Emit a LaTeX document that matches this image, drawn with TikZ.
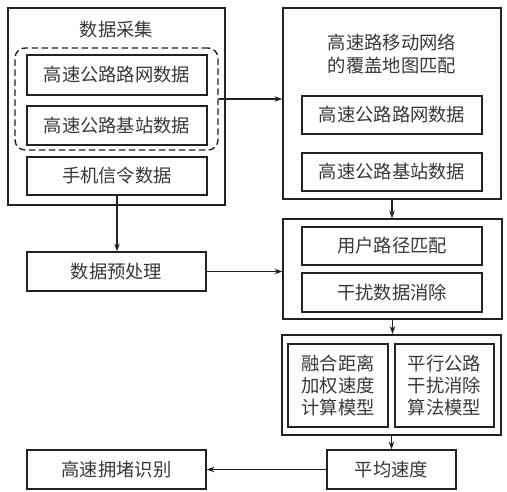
\documentclass[tikz,border=0pt]{standalone}
\usepackage{fontspec}
\newfontfamily\cjk{Noto Sans CJK SC}
\usetikzlibrary{arrows.meta}
\definecolor{ink}{HTML}{222222}
\definecolor{txt}{HTML}{383838}
\tikzset{
  boxstyle/.style={draw=ink, line width=1.2pt, rectangle, inner sep=0pt, font=\cjk\fontsize{18.3}{22}\selectfont, text=txt, align=center},
  thickbox/.style={boxstyle, line width=1.8pt},
  arr/.style={draw=ink, line width=1.2pt, -{Stealth[length=8pt,width=5.5pt]}},
}
\begin{document}
\begin{tikzpicture}[x=1pt,y=-1pt]
\useasboundingbox (0,0) rectangle (507,492);
% left group
\node[boxstyle, minimum width=217pt, minimum height=197pt] (a) at (116.5,106.5) {};
\node[font=\cjk\fontsize{18.3}{22}\selectfont, text=txt] (atitle) at (116.5,30) {数据采集};
\node[draw=ink, line width=1.4pt, dash pattern=on 6.5pt off 3.5pt, rounded corners=10pt, minimum width=203pt, minimum height=102pt] (dash) at (116.5,99) {};
\node[boxstyle, minimum width=180pt, minimum height=40pt] (a1) at (117,75) {高速公路路网数据};
\node[boxstyle, minimum width=180pt, minimum height=39pt] (a2) at (117,125.5) {高速公路基站数据};
\node[boxstyle, minimum width=180pt, minimum height=38pt] (a3) at (117,176) {手机信令数据};
\node[boxstyle, minimum width=179pt, minimum height=39pt] (p) at (116.5,271.5) {数据预处理};
\node[boxstyle, minimum width=179pt, minimum height=39pt] (j) at (116.5,469.5) {高速拥堵识别};
% right group
\node[boxstyle, minimum width=218pt, minimum height=191pt] (b) at (392,103.5) {};
\node[font=\cjk\fontsize{18.3}{23}\selectfont, text=txt, align=center] (btitle) at (392,53.5) {高速路移动网络\\的覆盖地图匹配};
\node[boxstyle, minimum width=180pt, minimum height=38pt] (b1) at (392,115) {高速公路路网数据};
\node[boxstyle, minimum width=180pt, minimum height=38pt] (b2) at (392,172) {高速公路基站数据};
\node[boxstyle, minimum width=219pt, minimum height=100pt] (c) at (392.5,269) {};
\node[boxstyle, minimum width=180pt, minimum height=38pt] (c1) at (392,246) {用户路径匹配};
\node[boxstyle, minimum width=180pt, minimum height=39pt] (c2) at (392,292.5) {干扰数据消除};
\node[thickbox, minimum width=219pt, minimum height=100pt] (d) at (391.5,385) {};
\node[thickbox, minimum width=100pt, minimum height=83pt] (d1) at (338,385.5) {融合距离\\加权速度\\计算模型};
\node[thickbox, minimum width=99pt, minimum height=83pt] (d2) at (444.5,385.5) {平行公路\\干扰消除\\算法模型};
\node[boxstyle, minimum width=129pt, minimum height=39pt] (e) at (391.5,469.5) {平均速度};
% connectors
\draw[arr] (dash.east) -- (dash.east -| b.west);
\draw[arr] (a3.south) -- (a3.south |- p.north);
\draw[arr] (p.east) -- (p.east -| c.west);
\draw[arr] (b.south) -- (b.south |- c.north);
\draw[arr] (c.south) -- (c.south |- d.north);
\draw[arr] (d.south) -- (d.south |- e.north);
\draw[arr] (e.west) -- (j.east);
\end{tikzpicture}
\end{document}
